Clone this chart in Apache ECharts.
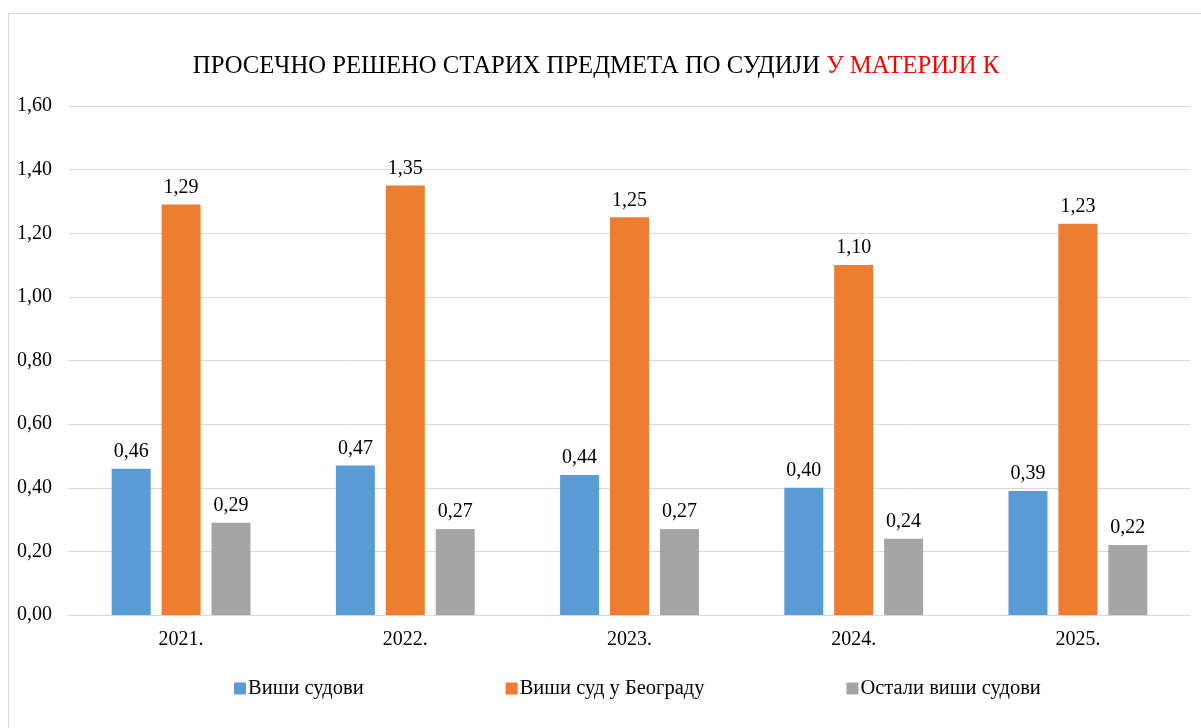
<!DOCTYPE html>
<html>
<head>
    <meta charset="utf-8">
    <title>ECharts</title>
    <script src="https://cdn.jsdelivr.net/npm/echarts@6/dist/echarts.min.js"></script>
    <style>
        html, body { margin: 0; padding: 0; background: #fff; }
        #frame { position: absolute; left: 8px; top: 13px; width: 1200px; height: 720px; border: 1px solid #d9d9d9; box-sizing: border-box; }
        #main { position: absolute; left: 0; top: 0; width: 1201px; height: 728px; }
    </style>
</head>
<body>
    <div id="frame"></div>
    <div id="main"></div>
    <script type="text/javascript">
        // подаци
        var categories = ['2021.', '2022.', '2023.', '2024.', '2025.'];
        var seriesNames = ['Виши судови', 'Виши суд у Београду', 'Остали виши судови'];
        var visiSudovi = [0.46, 0.47, 0.44, 0.40, 0.39];
        var visiSudBeograd = [1.29, 1.35, 1.25, 1.10, 1.23];
        var ostaliVisi = [0.29, 0.27, 0.27, 0.24, 0.22];
        var colors = ['#5B9BD5', '#ED7D31', '#A5A5A5'];

        var font = '"Liberation Serif", "DejaVu Serif", serif';
        function fmt(v) { return v.toFixed(2).replace('.', ','); }

        var myChart = echarts.init(document.getElementById('main'));

        function bar(name, data, color) {
            return {
                name: name,
                type: 'bar',
                data: data,
                barWidth: 39,
                barGap: '28%',
                itemStyle: { color: color },
                label: {
                    show: true,
                    position: 'top',
                    distance: 7,
                    color: '#000',
                    fontFamily: font,
                    fontSize: 20,
                    formatter: function (p) { return fmt(p.value); }
                }
            };
        }

        myChart.setOption({
            animation: false,
            title: {
                text: '{a|ПРОСЕЧНО РЕШЕНО СТАРИХ ПРЕДМЕТА ПО СУДИЈИ }{b|У МАТЕРИЈИ К}',
                left: 591,
                textAlign: 'center',
                top: 49,
                textStyle: {
                    rich: {
                        a: { fontFamily: font, fontSize: 24.7, fontWeight: 'normal', color: '#000' },
                        b: { fontFamily: font, fontSize: 24.7, fontWeight: 'normal', color: '#FF0000' }
                    }
                }
            },
            legend: {
                data: seriesNames,
                bottom: 24,
                left: 229,
                itemWidth: 12,
                itemHeight: 12,
                itemGap: 142,
                icon: 'rect',
                textStyle: { fontFamily: font, fontSize: 20.5, color: '#000', padding: [0, 0, 0, -3] }
            },
            grid: { left: 69, right: 11, top: 106, bottom: 113, containLabel: false },
            xAxis: {
                type: 'category',
                data: categories,
                axisLine: { lineStyle: { color: '#d9d9d9', width: 1 } },
                axisTick: { show: false },
                axisLabel: { color: '#000', fontFamily: font, fontSize: 20, margin: 15 }
            },
            yAxis: {
                type: 'value',
                min: 0,
                max: 1.6,
                interval: 0.2,
                axisLine: { show: false },
                axisTick: { show: false },
                splitLine: { lineStyle: { color: '#d9d9d9', width: 1 } },
                axisLabel: {
                    color: '#000', fontFamily: font, fontSize: 20, margin: 17,
                    formatter: function (v) { return fmt(v); }
                }
            },
            series: [
                bar(seriesNames[0], visiSudovi, colors[0]),
                bar(seriesNames[1], visiSudBeograd, colors[1]),
                bar(seriesNames[2], ostaliVisi, colors[2])
            ]
        });
    </script>
</body>
</html>
